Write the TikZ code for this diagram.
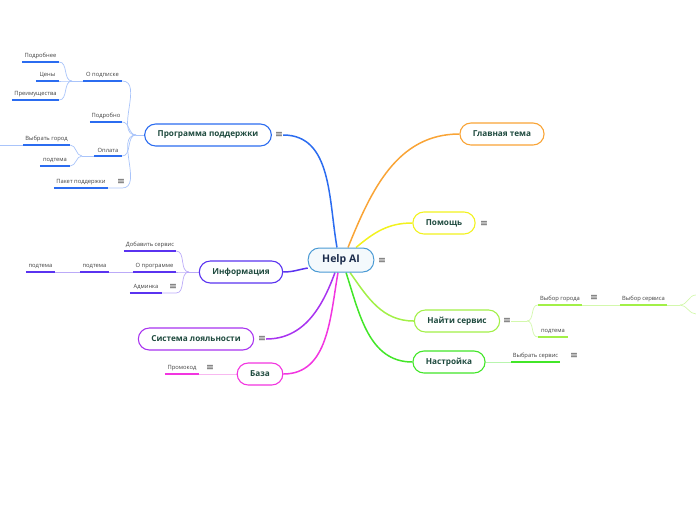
\documentclass[tikz,border=0pt]{standalone}
\usepackage{fontspec}
\setmainfont{Open Sans}
\newfontfamily\symfont{DejaVu Sans}
\usetikzlibrary{positioning,backgrounds}

\definecolor{cRoot}{HTML}{4A9AD4}
\definecolor{cRootText}{HTML}{1C2C4C}
\definecolor{cText}{HTML}{1E4A3E}
\definecolor{cBlue}{HTML}{2B6CF0}
\definecolor{cBlueL}{HTML}{A9C4FA}
\definecolor{cOrange}{HTML}{F9A436}
\definecolor{cYellow}{HTML}{F2F21E}
\definecolor{cLime}{HTML}{A2F047}
\definecolor{cLimeL}{HTML}{D3F8AC}
\definecolor{cGreen}{HTML}{42E628}
\definecolor{cGreenL}{HTML}{B8F5AE}
\definecolor{cIndigo}{HTML}{5A33F0}
\definecolor{cIndigoL}{HTML}{BBAAF8}
\definecolor{cViolet}{HTML}{A833F0}
\definecolor{cPink}{HTML}{F235E0}
\definecolor{cPinkL}{HTML}{F8B8F0}

\tikzset{
  topic/.style={draw=#1, line width=1.1pt, rounded corners=11pt, fill=white,
    minimum height=22pt, inner xsep=13pt, text=cText,
    font=\fontsize{8.2}{9}\selectfont\bfseries},
  sub/.style={inner xsep=0pt, inner ysep=3pt, anchor=south, text=black!75,
    font=\fontsize{5.8}{6}\selectfont},
  uline/.style={line width=1.8pt, #1},
  thin/.style={line width=0.7pt, #1},
  branch/.style={line width=1.5pt, #1},
  menuicon/.style={font=\symfont\fontsize{9.5}{9.5}\selectfont, text=black!70, inner sep=0pt},
}

\begin{document}
\begin{tikzpicture}[x=1pt,y=-1pt]
\useasboundingbox (0,0) rectangle (696,520);

% central topic and main topics
\node[topic=cRoot, fill=cRoot!6, line width=1pt, minimum height=24pt, inner xsep=14pt,
  text=cRootText, font=\fontsize{10.5}{11}\selectfont\bfseries] (root) at (341,260) {Help AI};
\node[menuicon] (rootm) at (382,261) {≡};

\node[topic=cBlue] (prog) at (208,135) {Программа поддержки};
\node[menuicon] (progm) at (279,135) {≡};
\node[topic=cOrange] (glav) at (502,134) {Главная тема};
\node[topic=cYellow] (pomosh) at (444,223) {Помощь};
\node[menuicon] (pomoshm) at (484,224) {≡};
\node[topic=cLime] (naiti) at (457,321) {Найти сервис};
\node[menuicon] (naitim) at (507,321) {≡};
\node[topic=cGreen] (nastr) at (449,362) {Настройка};
\node[topic=cIndigo] (info) at (241,272) {Информация};
\node[topic=cViolet] (loyal) at (196,339) {Система лояльности};
\node[menuicon] (loyalm) at (262,339) {≡};
\node[topic=cPink] (baza) at (260,374) {База};

% subtopics
\node[sub, minimum width=39pt] (opodp) at (102.5,81) {О подписке};
\node[sub, minimum width=37pt] (podrobnee) at (40.5,62) {Подробнее};
\node[sub, minimum width=23pt] (tseny) at (47.5,81) {Цены};
\node[sub, minimum width=47pt] (preim) at (35.5,100) {Преимущества};
\node[sub, minimum width=32pt] (podrobno) at (106,122) {Подробно};
\node[sub, minimum width=28pt] (oplata) at (108,156) {Оплата};
\node[sub, minimum width=47pt] (vybgorod) at (46.5,145) {Выбрать город};
\node[sub, minimum width=30pt] (podtemaA) at (55,166) {подтема};
\node[sub, minimum width=54pt] (paket) at (81,188) {Пакет поддержки};
\node[menuicon] (paketm) at (121,182) {≡};

\node[sub, minimum width=52pt] (dobserv) at (150,251) {Добавить сервис};
\node[sub, minimum width=43pt] (oprog) at (154.5,272) {О программе};
\node[sub, minimum width=29pt] (podtemaB) at (94.5,272) {подтема};
\node[sub, minimum width=29pt] (podtemaC) at (40.5,272) {подтема};
\node[sub, minimum width=32pt] (admin) at (146,293) {Админка};
\node[menuicon] (adminm) at (173,287) {≡};

\node[sub, minimum width=34pt] (promo) at (182,374) {Промокод};
\node[menuicon] (promom) at (210,368) {≡};

\node[sub, minimum width=44pt] (vybgor) at (560,305) {Выбор города};
\node[menuicon] (vybgorm) at (594,298) {≡};
\node[sub, minimum width=47pt] (vybserv) at (643.5,305) {Выбор сервиса};
\node[sub, minimum width=30pt] (podtemaD) at (553,337) {подтема};
\node[sub, minimum width=49pt] (vybservB) at (535.5,362) {Выбрать сервис};
\node[menuicon] (vybservBm) at (574,356) {≡};

\coordinate (jprog) at (136,135);
\coordinate (jopodp) at (72,81);
\coordinate (joplata) at (82,156);
\coordinate (jinfo) at (189,272);
\coordinate (jnaiti) at (527,321);
\coordinate (jvybserv) at (680,305);
\coordinate (leftcut) at (0,145);
\coordinate (cutA) at (696,295);
\coordinate (cutB) at (696,314);

\begin{scope}[on background layer]
% main branches
\draw[branch=cBlue] ([xshift=-4pt]root.north) to[out=100,in=0] (progm.east);
\draw[branch=cOrange] ([xshift=7pt]root.north) to[out=68,in=180] (glav.west);
\draw[branch=cYellow] ([xshift=15pt]root.north) to[out=40,in=180] (pomosh.west);
\draw[branch=cLime] ([xshift=9pt]root.south) to[out=-55,in=180] (naiti.west);
\draw[branch=cGreen] ([xshift=5pt]root.south) to[out=-72,in=180] (nastr.west);
\draw[branch=cIndigo] ([yshift=-8pt]root.west) to[out=190,in=0] (info.east);
\draw[branch=cViolet] ([xshift=-6pt]root.south) to[out=-110,in=0] (loyalm.east);
\draw[branch=cPink] ([xshift=-3pt]root.south) to[out=-100,in=0] (baza.east);

% subtopic connectors
\draw[thin=cBlueL] (prog.west) -- (jprog);
\foreach \n in {opodp,podrobno,oplata}
  \draw[thin=cBlueL] (jprog) to[out=180,in=0] (\n.south east);
\draw[thin=cBlueL] (jprog) to[out=180,in=0] ([xshift=14pt]paket.south east) -- (paket.south east);
\draw[thin=cBlueL] (opodp.south west) -- (jopodp);
\foreach \n in {podrobnee,tseny,preim}
  \draw[thin=cBlueL] (jopodp) to[out=180,in=0] (\n.south east);
\draw[thin=cBlueL] (oplata.south west) -- (joplata);
\foreach \n in {vybgorod,podtemaA}
  \draw[thin=cBlueL] (joplata) to[out=180,in=0] (\n.south east);
\draw[thin=cBlueL] (vybgorod.south west) -- (leftcut);

\draw[thin=cIndigoL] (info.west) -- (jinfo);
\foreach \n in {dobserv,oprog}
  \draw[thin=cIndigoL] (jinfo) to[out=180,in=0] (\n.south east);
\draw[thin=cIndigoL] (jinfo) to[out=180,in=0] ([xshift=14pt]admin.south east) -- (admin.south east);
\draw[thin=cIndigoL] (oprog.south west) -- (podtemaB.south east);
\draw[thin=cIndigoL] (podtemaB.south west) -- (podtemaC.south east);

\draw[thin=cPinkL] (baza.west) -- (promo.south east);

\draw[thin=cLimeL] (naitim.east) -- (jnaiti);
\foreach \n in {vybgor,podtemaD}
  \draw[thin=cLimeL] (jnaiti) to[out=0,in=180] (\n.south west);
\draw[thin=cLimeL] (vybgor.south east) -- (vybserv.south west);
\draw[thin=cLimeL] (vybserv.south east) -- (jvybserv);
\foreach \n in {cutA,cutB}
  \draw[thin=cLimeL] (jvybserv) to[out=0,in=180] (\n);

\draw[thin=cGreenL] (nastr.east) -- (vybservB.south west);
\end{scope}

% underlines
\foreach \n/\c in {opodp/cBlue,podrobnee/cBlue,tseny/cBlue,preim/cBlue,podrobno/cBlue,
    oplata/cBlue,vybgorod/cBlue,podtemaA/cBlue,paket/cBlue,
    dobserv/cIndigo,oprog/cIndigo,podtemaB/cIndigo,podtemaC/cIndigo,admin/cIndigo,
    promo/cPink,vybgor/cLime,vybserv/cLime,podtemaD/cLime,vybservB/cGreen}
  \draw[uline=\c] (\n.south west) -- (\n.south east);
\end{tikzpicture}
\end{document}
